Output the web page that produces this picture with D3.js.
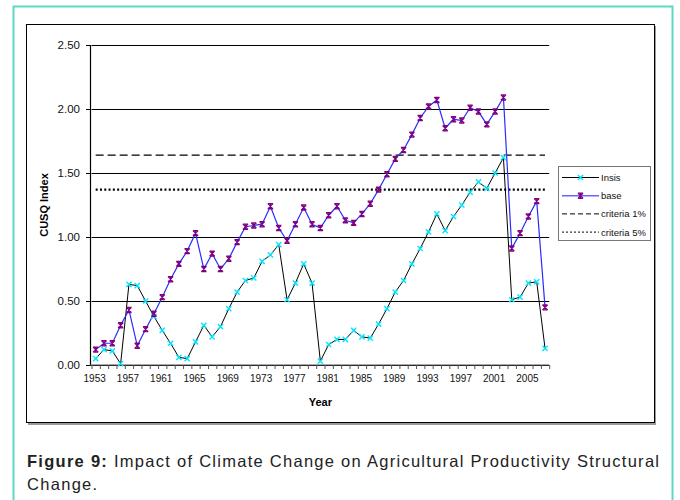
<!DOCTYPE html>
<html>
<head>
<meta charset="utf-8">
<script src="https://cdn.jsdelivr.net/npm/d3@7/dist/d3.min.js"></script>
<style>
  html, body { margin: 0; padding: 0; background: #fff; }
  svg { display: block; font-family: "Liberation Sans", Arial, sans-serif; }
</style>
</head>
<body>
<svg id="chart" width="680" height="500"></svg>
<script>
// Years on the category axis
const years = d3.range(1953, 2008);
// CUSUM of squares for the two series
const insis = [0.05, 0.12, 0.11, 0.01, 0.63, 0.62, 0.50, 0.38, 0.27, 0.17, 0.06, 0.05, 0.18, 0.31, 0.22, 0.30, 0.44, 0.57, 0.66, 0.68, 0.81, 0.86, 0.94, 0.51, 0.64, 0.79, 0.64,
  0.03, 0.16, 0.20, 0.20, 0.27, 0.22, 0.21, 0.32, 0.44, 0.57, 0.66, 0.79, 0.91, 1.04, 1.18, 1.05, 1.16, 1.25, 1.35, 1.43, 1.38, 1.50, 1.62, 0.51, 0.53, 0.64, 0.65, 0.13];
const base = [0.12, 0.17, 0.17, 0.31, 0.43, 0.15, 0.28, 0.40, 0.53, 0.67, 0.79, 0.89, 1.03, 0.75, 0.87, 0.75, 0.83, 0.96, 1.08, 1.09, 1.10, 1.24, 1.07, 0.97, 1.10, 1.23, 1.10,
  1.07, 1.17, 1.24, 1.13, 1.11, 1.18, 1.26, 1.37, 1.49, 1.61, 1.68, 1.80, 1.93, 2.02, 2.07, 1.85, 1.92, 1.91, 2.01, 1.98, 1.88, 1.98, 2.09, 0.91, 1.03, 1.16, 1.28, 0.45];
// Critical bounds
const criteria1 = 1.64;
const criteria5 = 1.37;
const yTicks = [0, 0.5, 1.0, 1.5, 2.0, 2.5];
const xLabelYears = years.filter((d, i) => i % 4 === 0);

(function draw() {
  const svg = d3.select("#chart");

  // outer frame
  svg.append("rect").attr("x", 13.5).attr("y", 6.5).attr("width", 659).attr("height", 500)
    .attr("fill", "none").attr("stroke", "#5ed8c6").attr("stroke-width", 2);

  // chart area with shadow
  svg.append("rect").attr("x", 28).attr("y", 26).attr("width", 628).attr("height", 399).attr("fill", "#9a9a9a");
  svg.append("rect").attr("x", 26.5).attr("y", 24.5).attr("width", 628).attr("height", 398)
    .attr("fill", "#fff").attr("stroke", "#000").attr("stroke-width", 1);

  const pLeft = 91.5, pRight = 549.2, pTop = 45, pBottom = 365;

  const x = d3.scalePoint().domain(years).range([pLeft, pRight]).padding(0.5);
  const y = d3.scaleLinear().domain([0, 2.5]).range([pBottom, pTop]);

  // horizontal gridlines
  svg.append("g").attr("transform", `translate(${pLeft},0)`)
    .call(d3.axisLeft(y).tickValues(yTicks).tickSize(-(pRight - pLeft)).tickFormat(""))
    .call(g => g.select(".domain").remove())
    .call(g => g.selectAll("line").attr("stroke", "#000").attr("stroke-width", 1.2));

  // y axis
  const yAxis = svg.append("g").attr("transform", `translate(90,0)`)
    .call(d3.axisLeft(y).tickValues(yTicks).tickSize(4).tickPadding(6).tickFormat(d3.format(".2f")));
  yAxis.select(".domain").attr("stroke", "#000").attr("stroke-width", 1.2);
  yAxis.selectAll("text").attr("font-size", 11.5).attr("fill", "#111");

  // x axis: category boundary ticks
  const xb = d3.scaleLinear().domain([0, years.length]).range([pLeft, pRight]);
  const xTickAxis = svg.append("g").attr("transform", `translate(0,${pBottom})`)
    .call(d3.axisBottom(xb).tickValues(d3.range(years.length + 1)).tickSize(4).tickSizeOuter(0).tickFormat(""));
  xTickAxis.select(".domain").attr("stroke", "#555").attr("stroke-width", 1.2).attr("d", `M90,0H${pRight}`);
  xTickAxis.selectAll(".tick line").attr("stroke", "#555");

  // x labels
  const xLab = svg.append("g").attr("transform", `translate(-1.5,${pBottom})`)
    .call(d3.axisBottom(x).tickValues(xLabelYears).tickSize(0).tickPadding(10));
  xLab.select(".domain").remove();
  xLab.selectAll("text").attr("font-size", 10).attr("fill", "#111");

  // axis titles
  svg.append("text").attr("transform", "translate(48,205) rotate(-90)").attr("text-anchor", "middle")
    .attr("font-size", 11).attr("font-weight", "bold").text("CUSQ Index");
  svg.append("text").attr("x", (pLeft + pRight) / 2).attr("y", 406).attr("text-anchor", "middle")
    .attr("font-size", 11).attr("font-weight", "bold").text("Year");

  // critical lines
  const x0 = x(years[0]), x1 = x(years[years.length - 1]);
  svg.append("line").attr("x1", x0).attr("x2", x1).attr("y1", y(criteria1)).attr("y2", y(criteria1))
    .attr("stroke", "#000").attr("stroke-width", 1.3).attr("stroke-dasharray", "8,4");
  svg.append("line").attr("x1", x0).attr("x2", x1).attr("y1", y(criteria5)).attr("y2", y(criteria5))
    .attr("stroke", "#000").attr("stroke-width", 2.2).attr("stroke-dasharray", "2,2.3");

  const line = d3.line().x((d, i) => x(years[i])).y(d => y(d));

  // markers
  function xMark(g, cx, cy, color) {
    const s = 2.6;
    g.append("path").attr("d", `M${cx - s},${cy - s}L${cx + s},${cy + s}M${cx - s},${cy + s}L${cx + s},${cy - s}`)
      .attr("stroke", color).attr("stroke-width", 1.4).attr("fill", "none");
  }
  function starMark(g, cx, cy, color) {
    const s = 2.6;
    g.append("path").attr("d", `M${cx - s},${cy - s}L${cx + s},${cy + s}M${cx - s},${cy + s}L${cx + s},${cy - s}M${cx},${cy - s}L${cx},${cy + s}M${cx - s},${cy - s}H${cx + s}M${cx - s},${cy + s}H${cx + s}`)
      .attr("stroke", color).attr("stroke-width", 1.2).attr("fill", "none");
  }

  svg.append("path").datum(insis).attr("d", line).attr("fill", "none").attr("stroke", "#000").attr("stroke-width", 1);
  svg.append("path").datum(base).attr("d", line).attr("fill", "none").attr("stroke", "#2b2bff").attr("stroke-width", 1.2);

  const mk1 = svg.append("g");
  insis.forEach((v, i) => xMark(mk1, x(years[i]), y(v), "#00e5ff"));
  const mk2 = svg.append("g");
  base.forEach((v, i) => starMark(mk2, x(years[i]), y(v), "#800080"));

  // legend
  const lg = svg.append("g");
  lg.append("rect").attr("x", 558.5).attr("y", 166.5).attr("width", 92).attr("height", 74)
    .attr("fill", "#fff").attr("stroke", "#777").attr("stroke-width", 1);
  const legendItems = [
    { name: "Insis", stroke: "#000", w: 1, dash: null, mark: "x" },
    { name: "base", stroke: "#6666ff", w: 1.5, dash: null, mark: "star" },
    { name: "criteria 1%", stroke: "#000", w: 1, dash: "5,3" },
    { name: "criteria 5%", stroke: "#000", w: 1, dash: "2,2" }
  ];
  legendItems.forEach((d, i) => {
    const ly = 177.5 + i * 18.2;
    const l = lg.append("line").attr("x1", 562).attr("x2", 599).attr("y1", ly).attr("y2", ly)
      .attr("stroke", d.stroke).attr("stroke-width", d.w);
    if (d.dash) l.attr("stroke-dasharray", d.dash);
    if (d.mark === "x") xMark(lg, 580.5, ly, "#00e5ff");
    if (d.mark === "star") starMark(lg, 580.5, ly, "#800080");
    lg.append("text").attr("x", 601).attr("y", ly + 3.5).attr("font-size", 9.5).attr("fill", "#111").text(d.name);
  });

  // caption
  const cap = svg.append("text").attr("x", 27).attr("y", 466.5).attr("font-size", 16.5).attr("fill", "#222")
    .attr("textLength", 632).attr("lengthAdjust", "spacing");
  cap.append("tspan").attr("font-weight", "bold").text("Figure 9:");
  cap.append("tspan").text(" Impact of Climate Change on Agricultural Productivity Structural");
  svg.append("text").attr("x", 27).attr("y", 490).attr("font-size", 16.5).attr("fill", "#222")
    .attr("letter-spacing", 1.3).text("Change.");
})();
</script>
</body>
</html>
